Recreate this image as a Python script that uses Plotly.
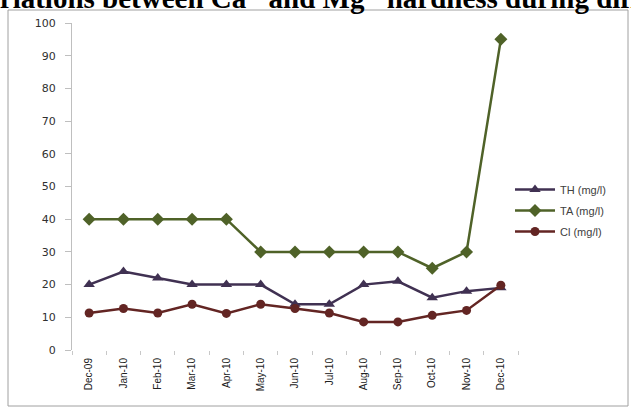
import plotly.graph_objects as go

months = ["Dec-09", "Jan-10", "Feb-10", "Mar-10", "Apr-10", "May-10", "Jun-10",
          "Jul-10", "Aug-10", "Sep-10", "Oct-10", "Nov-10", "Dec-10"]
th_values = [20, 24, 22, 20, 20, 20, 14, 14, 20, 21, 16, 18, 19]
ta_values = [40, 40, 40, 40, 40, 30, 30, 30, 30, 30, 25, 30, 95]
cl_values = [11.3, 12.7, 11.3, 14, 11.2, 14, 12.7, 11.3, 8.6, 8.6, 10.6, 12.1, 19.8]

W, H = 631, 407
ML, MR, MT, MB = 72, 113, 23, 57
PW, PH = W - ML - MR, H - MT - MB


def px_x(p):
    return (p - ML) / PW


def px_y(p):
    return (H - MB - p) / PH


fig = go.Figure()
series = [
    ("TH (mg/l)", th_values, "#403152", "triangle-up", 10),
    ("TA (mg/l)", ta_values, "#4F6228", "diamond", 10),
    ("Cl (mg/l)", cl_values, "#632523", "circle", 9),
]
for name, vals, color, symbol, size in series:
    fig.add_trace(go.Scatter(
        x=months, y=vals, name=name, legendgroup=name, mode="lines+markers",
        line=dict(color=color, width=2.5),
        marker=dict(symbol=symbol, size=size, color=color),
    ))

sup = "<sup><span style='font-size:14px'>2+</span></sup>"
title_text = f"<b>Variations between Ca{sup} and Mg{sup} hardness during different months</b>"

fig.update_layout(
    width=W, height=H,
    margin=dict(l=ML, r=MR, t=MT, b=MB),
    paper_bgcolor="white", plot_bgcolor="white",
    showlegend=True,
    legend=dict(x=px_x(510), y=px_y(175), xanchor="left", yanchor="top",
                font=dict(family="Liberation Sans", size=11, color="#404040"),
                bgcolor="rgba(0,0,0,0)", itemwidth=40, tracegroupgap=2),
    xaxis=dict(type="category", showgrid=False, showline=False, zeroline=False,
               ticks="outside", tickson="boundaries", ticklen=4, tickcolor="#C8C8C8",
               tickangle=-90, ticklabelstandoff=5,
               tickfont=dict(family="Liberation Sans", size=10, color="#202020"),
               range=[-0.5, len(months) - 0.5]),
    yaxis=dict(range=[0, 100], dtick=10, showgrid=False, zeroline=False,
               showline=True, linecolor="#BFBFBF", linewidth=1,
               ticks="outside", ticklen=6, tickcolor="#BFBFBF", ticklabelstandoff=7,
               tickfont=dict(family="DejaVu Sans", size=11, color="#303030")),
    shapes=[dict(type="rect", xref="paper", yref="paper",
                 x0=px_x(8), x1=px_x(628), y0=px_y(406), y1=px_y(10),
                 line=dict(color="#A0A0A0", width=1), layer="below")],
    annotations=[dict(
        text=title_text,
        xref="paper", yref="paper", x=px_x(-35), y=px_y(16),
        xanchor="left", yanchor="bottom", showarrow=False,
        font=dict(family="Liberation Serif", size=29, color="black"),
    )],
)

fig.write_html("out.html")
